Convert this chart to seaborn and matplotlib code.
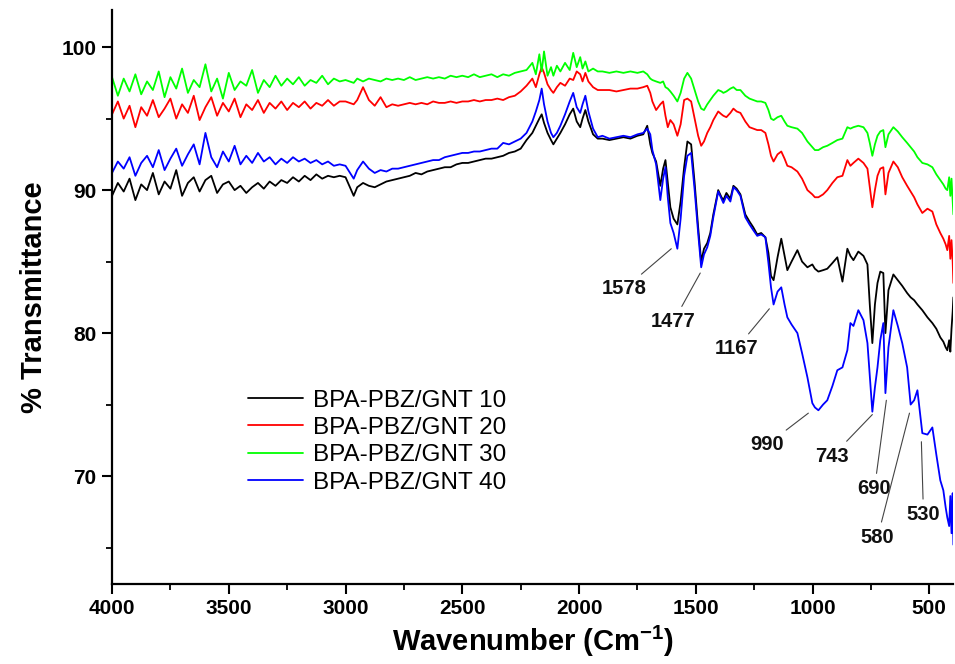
import numpy as np
import pandas as pd
import matplotlib
matplotlib.use('Agg')
import matplotlib.pyplot as plt
import seaborn as sns

# FTIR spectra (wavenumber in cm-1, % transmittance)
wavenumber = [
    4000, 3975, 3950, 3925, 3900, 3875, 3850, 3825, 3800, 3775,
    3750, 3725, 3700, 3675, 3650, 3625, 3600, 3575, 3550, 3525,
    3500, 3475, 3450, 3425, 3400, 3375, 3350, 3325, 3300, 3275,
    3250, 3225, 3200, 3175, 3150, 3125, 3100, 3075, 3050, 3025,
    3000, 2965, 2950, 2925, 2900, 2875, 2850, 2825, 2800, 2775,
    2750, 2725, 2700, 2675, 2650, 2625, 2600, 2575, 2550, 2525,
    2500, 2475, 2450, 2425, 2400, 2375, 2350, 2325, 2300, 2275,
    2250, 2225, 2200, 2185, 2170, 2160, 2150, 2135, 2120, 2110,
    2095, 2080, 2060, 2040, 2025, 2010, 1995, 1985, 1973, 1960,
    1940, 1920, 1900, 1870, 1840, 1810, 1780, 1750, 1725, 1708,
    1695, 1686, 1670, 1652, 1640, 1630, 1620, 1609, 1595, 1579,
    1565, 1550, 1536, 1520, 1505, 1490, 1477, 1465, 1451, 1438,
    1425, 1404, 1390, 1382, 1369, 1352, 1339, 1325, 1309, 1288,
    1270, 1254, 1237, 1220, 1202, 1189, 1178, 1167, 1150, 1134,
    1120, 1108, 1090, 1065, 1045, 1022, 1001, 990, 975, 955,
    937, 915, 894, 872, 851, 838, 825, 804, 782, 765,
    755, 744, 733, 722, 710, 697, 688, 675, 654, 635,
    616, 595, 580, 565, 551, 530, 508, 487, 470, 453,
    440, 430, 423, 415, 410, 405, 400, 397,
]

gnt10 = [
    89.6, 90.5, 89.9, 90.8, 89.3, 90.4, 90.0, 91.2, 89.7, 90.6,
    90.1, 91.4, 89.6, 90.5, 90.9, 89.9, 90.7, 91.0, 89.8, 90.4,
    90.6, 90.0, 90.3, 89.8, 90.2, 90.5, 90.1, 90.6, 90.3, 90.7,
    90.5, 90.9, 90.6, 91.0, 90.7, 91.1, 90.8, 91.0, 90.9, 91.0,
    90.9, 89.6, 90.2, 90.5, 90.3, 90.2, 90.4, 90.6, 90.7, 90.8,
    90.9, 91.0, 91.2, 91.1, 91.3, 91.4, 91.5, 91.6, 91.6, 91.8,
    91.9, 91.9, 92.0, 92.1, 92.2, 92.2, 92.3, 92.4, 92.6, 92.7,
    92.9, 93.5, 94.0, 94.5, 95.0, 95.3, 94.7, 94.0, 93.5, 93.2,
    93.6, 94.0, 94.6, 95.3, 95.7, 94.8, 94.4, 95.0, 95.6, 94.8,
    93.9, 93.6, 93.6, 93.5, 93.6, 93.7, 93.6, 93.8, 93.9, 94.5,
    93.2, 92.6, 92.0, 90.3, 91.5, 92.1, 90.5, 88.8, 88.0, 87.6,
    89.2, 91.6, 93.4, 93.2, 90.5, 87.4, 85.0, 85.9, 86.3, 87.0,
    88.3, 90.0, 89.5, 89.3, 89.8, 89.4, 90.3, 90.1, 89.7, 88.3,
    87.8, 87.4, 86.9, 87.0, 86.7, 85.6, 84.0, 83.7, 85.3, 86.6,
    85.4, 84.4, 85.0, 85.8, 85.0, 84.6, 84.8, 84.5, 84.3, 84.4,
    84.5, 84.9, 85.3, 83.6, 85.9, 85.4, 85.1, 85.7, 85.4, 84.8,
    82.0, 79.3, 82.0, 83.5, 84.3, 84.2, 80.0, 83.0, 84.1, 83.7,
    83.3, 82.8, 82.5, 82.3, 82.0, 81.6, 81.1, 80.7, 80.3, 79.7,
    79.4, 79.0, 78.8, 79.5, 78.7, 80.3, 81.5, 82.5,
]

gnt20 = [
    95.3, 96.2, 95.0, 95.9, 94.4, 95.8, 95.2, 96.3, 95.1, 95.7,
    96.4, 95.0, 96.0, 95.4, 96.6, 94.9, 95.8, 96.5, 95.2, 96.1,
    95.5, 96.4, 95.1, 96.0, 95.6, 96.3, 95.4, 96.1, 95.7, 96.2,
    95.6, 96.1, 95.8, 96.2, 95.7, 96.1, 95.9, 96.3, 95.9, 96.2,
    96.2, 96.0, 96.3, 97.2, 96.3, 95.9, 96.5, 95.8, 96.0, 95.9,
    96.0, 96.1, 96.0, 96.1, 96.0, 96.2, 96.1, 96.1, 96.2, 96.1,
    96.2, 96.2, 96.3, 96.2, 96.3, 96.3, 96.4, 96.3, 96.5, 96.6,
    96.9, 97.3, 97.8, 97.2, 98.1, 98.6, 98.2, 97.4, 97.0, 96.8,
    97.2, 97.5, 97.3, 97.8, 97.7, 98.3, 98.1, 97.6, 98.2, 97.6,
    97.2, 97.0, 97.0, 97.0, 96.9, 97.0, 97.1, 97.1, 97.2, 97.3,
    96.8, 96.2, 95.6, 96.0, 96.2, 95.2, 94.4, 94.9, 94.6, 93.8,
    94.6, 96.3, 96.4, 96.2, 95.0, 93.8, 93.1, 93.4, 94.0, 94.4,
    94.9, 95.5, 95.3, 95.2, 95.1, 95.4, 95.7, 95.5, 95.4, 94.8,
    94.4, 94.3, 94.2, 94.2, 94.0, 93.2, 92.4, 92.0, 92.5, 92.7,
    92.2, 91.7, 91.6, 91.3, 90.8, 90.0, 89.7, 89.5, 89.5, 89.7,
    90.0, 90.5, 90.9, 91.0, 92.1, 91.7, 91.9, 92.2, 91.9, 91.5,
    90.2, 88.8, 90.0, 91.0, 91.5, 91.6, 89.7, 91.2, 92.0, 91.6,
    90.9, 90.3, 89.9, 89.5, 89.0, 88.4, 88.7, 88.5, 87.6, 87.0,
    86.6, 86.2, 85.8, 86.8, 85.2, 86.5, 85.0, 83.5,
]

gnt30 = [
    97.9, 96.6, 97.8, 96.9, 98.1, 96.7, 97.6, 97.0, 98.3, 96.5,
    97.9, 97.1, 98.5, 96.8, 97.7, 97.2, 98.8, 96.9, 97.8, 96.4,
    98.2, 97.0, 97.6, 97.3, 98.4, 96.8, 97.7, 97.2, 98.0, 97.3,
    97.8, 97.4, 97.9, 97.3, 97.7, 97.5, 98.0, 97.4, 97.8, 97.6,
    97.7, 97.5, 97.8, 97.6, 97.8, 97.7, 97.6, 97.8, 97.7, 97.8,
    97.7, 97.9, 97.7, 97.8, 97.9, 97.8, 97.9, 97.8, 98.0, 97.9,
    98.0, 97.9, 98.1, 97.9, 98.0, 98.1, 97.9, 98.1, 98.0, 98.2,
    98.3, 98.4, 98.9, 98.1, 99.5, 98.3, 99.7, 98.0, 98.6, 98.0,
    98.7, 98.3, 98.9, 98.4, 99.6, 98.6, 99.3, 98.5, 99.0, 98.3,
    98.5, 98.3, 98.3, 98.2, 98.3, 98.2, 98.3, 98.2, 98.3, 98.1,
    97.8, 97.7, 97.6, 97.5, 97.6, 97.2, 97.1, 96.9, 96.6, 96.2,
    96.8, 97.8, 98.2, 97.8, 97.0, 96.2, 95.7, 95.6, 96.0, 96.3,
    96.6, 97.0, 96.9, 96.8, 96.9, 97.1, 97.2, 97.0, 97.0, 96.6,
    96.4, 96.3, 96.2, 96.2, 96.1, 95.6, 95.0, 94.9, 95.1, 95.2,
    94.8, 94.5, 94.4, 94.3, 94.0, 93.4, 93.0, 92.8, 92.8, 93.0,
    93.1, 93.3, 93.5, 93.6, 94.4, 94.3, 94.4, 94.5, 94.4, 94.0,
    93.3, 92.4, 93.2, 93.8, 94.1, 94.2, 93.0, 93.9, 94.4, 94.1,
    93.7, 93.3, 93.0, 92.7, 92.3, 91.9, 91.8, 91.6, 91.1, 90.7,
    90.4, 90.1, 90.0, 90.9, 89.6, 90.8, 89.3, 88.3,
]

gnt40 = [
    91.2, 92.0, 91.5, 92.3, 91.0, 91.9, 92.4, 91.6, 92.8, 91.4,
    92.2, 92.9, 91.7, 92.5, 93.2, 91.8, 94.0, 92.3, 91.6, 92.7,
    92.0, 93.1, 91.8, 92.4, 91.9, 92.6, 92.0, 92.3, 91.8, 92.2,
    91.9, 92.3, 92.0, 92.2, 91.9, 92.1, 91.8, 92.0, 91.7, 91.8,
    91.7, 90.8, 91.4, 92.0, 91.5, 91.2, 91.4, 91.3, 91.5, 91.5,
    91.6, 91.7, 91.8, 91.9, 92.0, 92.1, 92.1, 92.3, 92.4, 92.5,
    92.6, 92.6, 92.7, 92.7, 92.8, 92.9, 92.9, 93.3, 93.2, 93.4,
    93.6, 94.0, 94.8, 95.5, 96.3, 97.1, 96.0, 94.8, 94.0, 93.7,
    94.0, 94.5, 95.3, 96.2, 96.8, 95.8, 95.4, 96.0, 96.6, 95.5,
    94.3, 93.7, 93.8, 93.6, 93.7, 93.8, 93.7, 93.9, 94.0, 94.3,
    93.9, 92.8, 91.8, 89.3, 90.8, 91.6, 89.5, 87.7, 87.0, 85.9,
    88.0, 91.0, 92.4, 92.6, 90.0, 87.0, 84.6, 85.5, 86.0, 86.8,
    88.1, 89.9, 89.4, 89.1, 89.6, 89.2, 90.2, 90.0, 89.6, 88.1,
    87.6, 87.2, 86.8, 86.9, 86.7, 84.9, 83.2, 82.0, 82.9, 83.2,
    82.0, 81.1, 80.6, 80.0, 78.6, 76.9, 75.1, 74.8, 74.6, 75.0,
    75.3, 76.3, 77.4, 77.6, 78.8, 80.7, 80.5, 81.6, 80.9, 79.3,
    77.0, 74.5, 76.2, 77.6, 79.5, 80.7, 75.8, 79.0, 81.6, 80.5,
    79.3, 77.6, 75.0, 75.3, 76.0, 73.0, 72.9, 73.4, 71.5, 69.7,
    69.0, 67.8, 67.1, 66.5, 68.6, 66.0, 68.8, 65.2,
]

samples = ['BPA-PBZ/GNT 10', 'BPA-PBZ/GNT 20', 'BPA-PBZ/GNT 30', 'BPA-PBZ/GNT 40']
colors = ['black', '#ff0000', '#00ff00', '#0000ff']

# peak labels: text, point the leader line touches, where the text sits
peak_text = ['1578', '1477', '1167', '990', '743', '690', '580', '530']
peak_tip = [(1605, 85.9), (1481, 84.2), (1185, 81.7), (1018, 74.4),
            (744, 74.3), (684, 75.3), (585, 74.4), (534, 72.4)]
peak_pos = [(1806, 83.1), (1596, 80.8), (1327, 78.9), (1194, 72.2),
            (915, 71.4), (735, 69.1), (722, 65.7), (525, 67.3)]

frames = []
for name, vals in zip(samples, [gnt10, gnt20, gnt30, gnt40]):
    frames.append(pd.DataFrame({'Wavenumber': wavenumber, 'Transmittance': vals, 'Sample': name}))
df = pd.concat(frames, ignore_index=True)

sns.set_style('ticks')
plt.rcParams['font.family'] = ['Liberation Sans', 'DejaVu Sans']
plt.rcParams['mathtext.fontset'] = 'custom'
plt.rcParams['mathtext.rm'] = 'Liberation Sans'
plt.rcParams['mathtext.bf'] = 'Liberation Sans:bold'
plt.rcParams['axes.unicode_minus'] = False
for key in ['text.color', 'axes.labelcolor', 'xtick.color', 'ytick.color', 'axes.edgecolor']:
    plt.rcParams[key] = 'black'

fig = plt.figure(figsize=(9.55, 6.64), dpi=100)
ax = fig.add_axes([0.1173, 0.1205, 0.881, 0.8645])

sns.lineplot(data=df, x='Wavenumber', y='Transmittance', hue='Sample',
             palette=colors, estimator=None, sort=False, linewidth=1.3, ax=ax)

for txt, tip, pos in zip(peak_text, peak_tip, peak_pos):
    ax.annotate(txt, xy=tip, xytext=pos, ha='center', va='center',
                fontsize=14.5, fontweight='bold', color='#111111',
                arrowprops=dict(arrowstyle='-', color='#444444', lw=0.8,
                                shrinkA=2, shrinkB=0))

ax.set_xlim(4000, 397)
ax.set_ylim(62.45, 102.6)
ax.set_xticks([4000, 3500, 3000, 2500, 2000, 1500, 1000, 500])
ax.set_xticks([3750, 3250, 2750, 2250, 1750, 1250, 750], minor=True)
ax.set_yticks([70, 80, 90, 100])
ax.set_yticks([65, 75, 85, 95], minor=True)
ax.tick_params(which='major', direction='out', length=7, width=1.5,
               labelsize=15, pad=4)
ax.tick_params(which='minor', direction='out', length=4, width=1.3)
for lab in ax.get_xticklabels() + ax.get_yticklabels():
    lab.set_fontweight('bold')

ax.set_xlabel(r'Wavenumber (Cm$^{\mathbf{-1}}$)', fontsize=21, fontweight='bold', labelpad=4)
ax.set_ylabel('% Transmittance', fontsize=21, fontweight='bold', labelpad=10)

sns.despine(ax=ax)
for side in ['left', 'bottom']:
    ax.spines[side].set_linewidth(1.6)

handles, labels = ax.get_legend_handles_labels()
ax.legend(handles, labels, frameon=False, loc='upper left',
          bbox_to_anchor=(0.249, 0.428), bbox_transform=fig.transFigure,
          fontsize=17.5, handlelength=2.3, handletextpad=0.4,
          labelspacing=0.22, borderaxespad=0)

fig.savefig('out.png', dpi=100)
